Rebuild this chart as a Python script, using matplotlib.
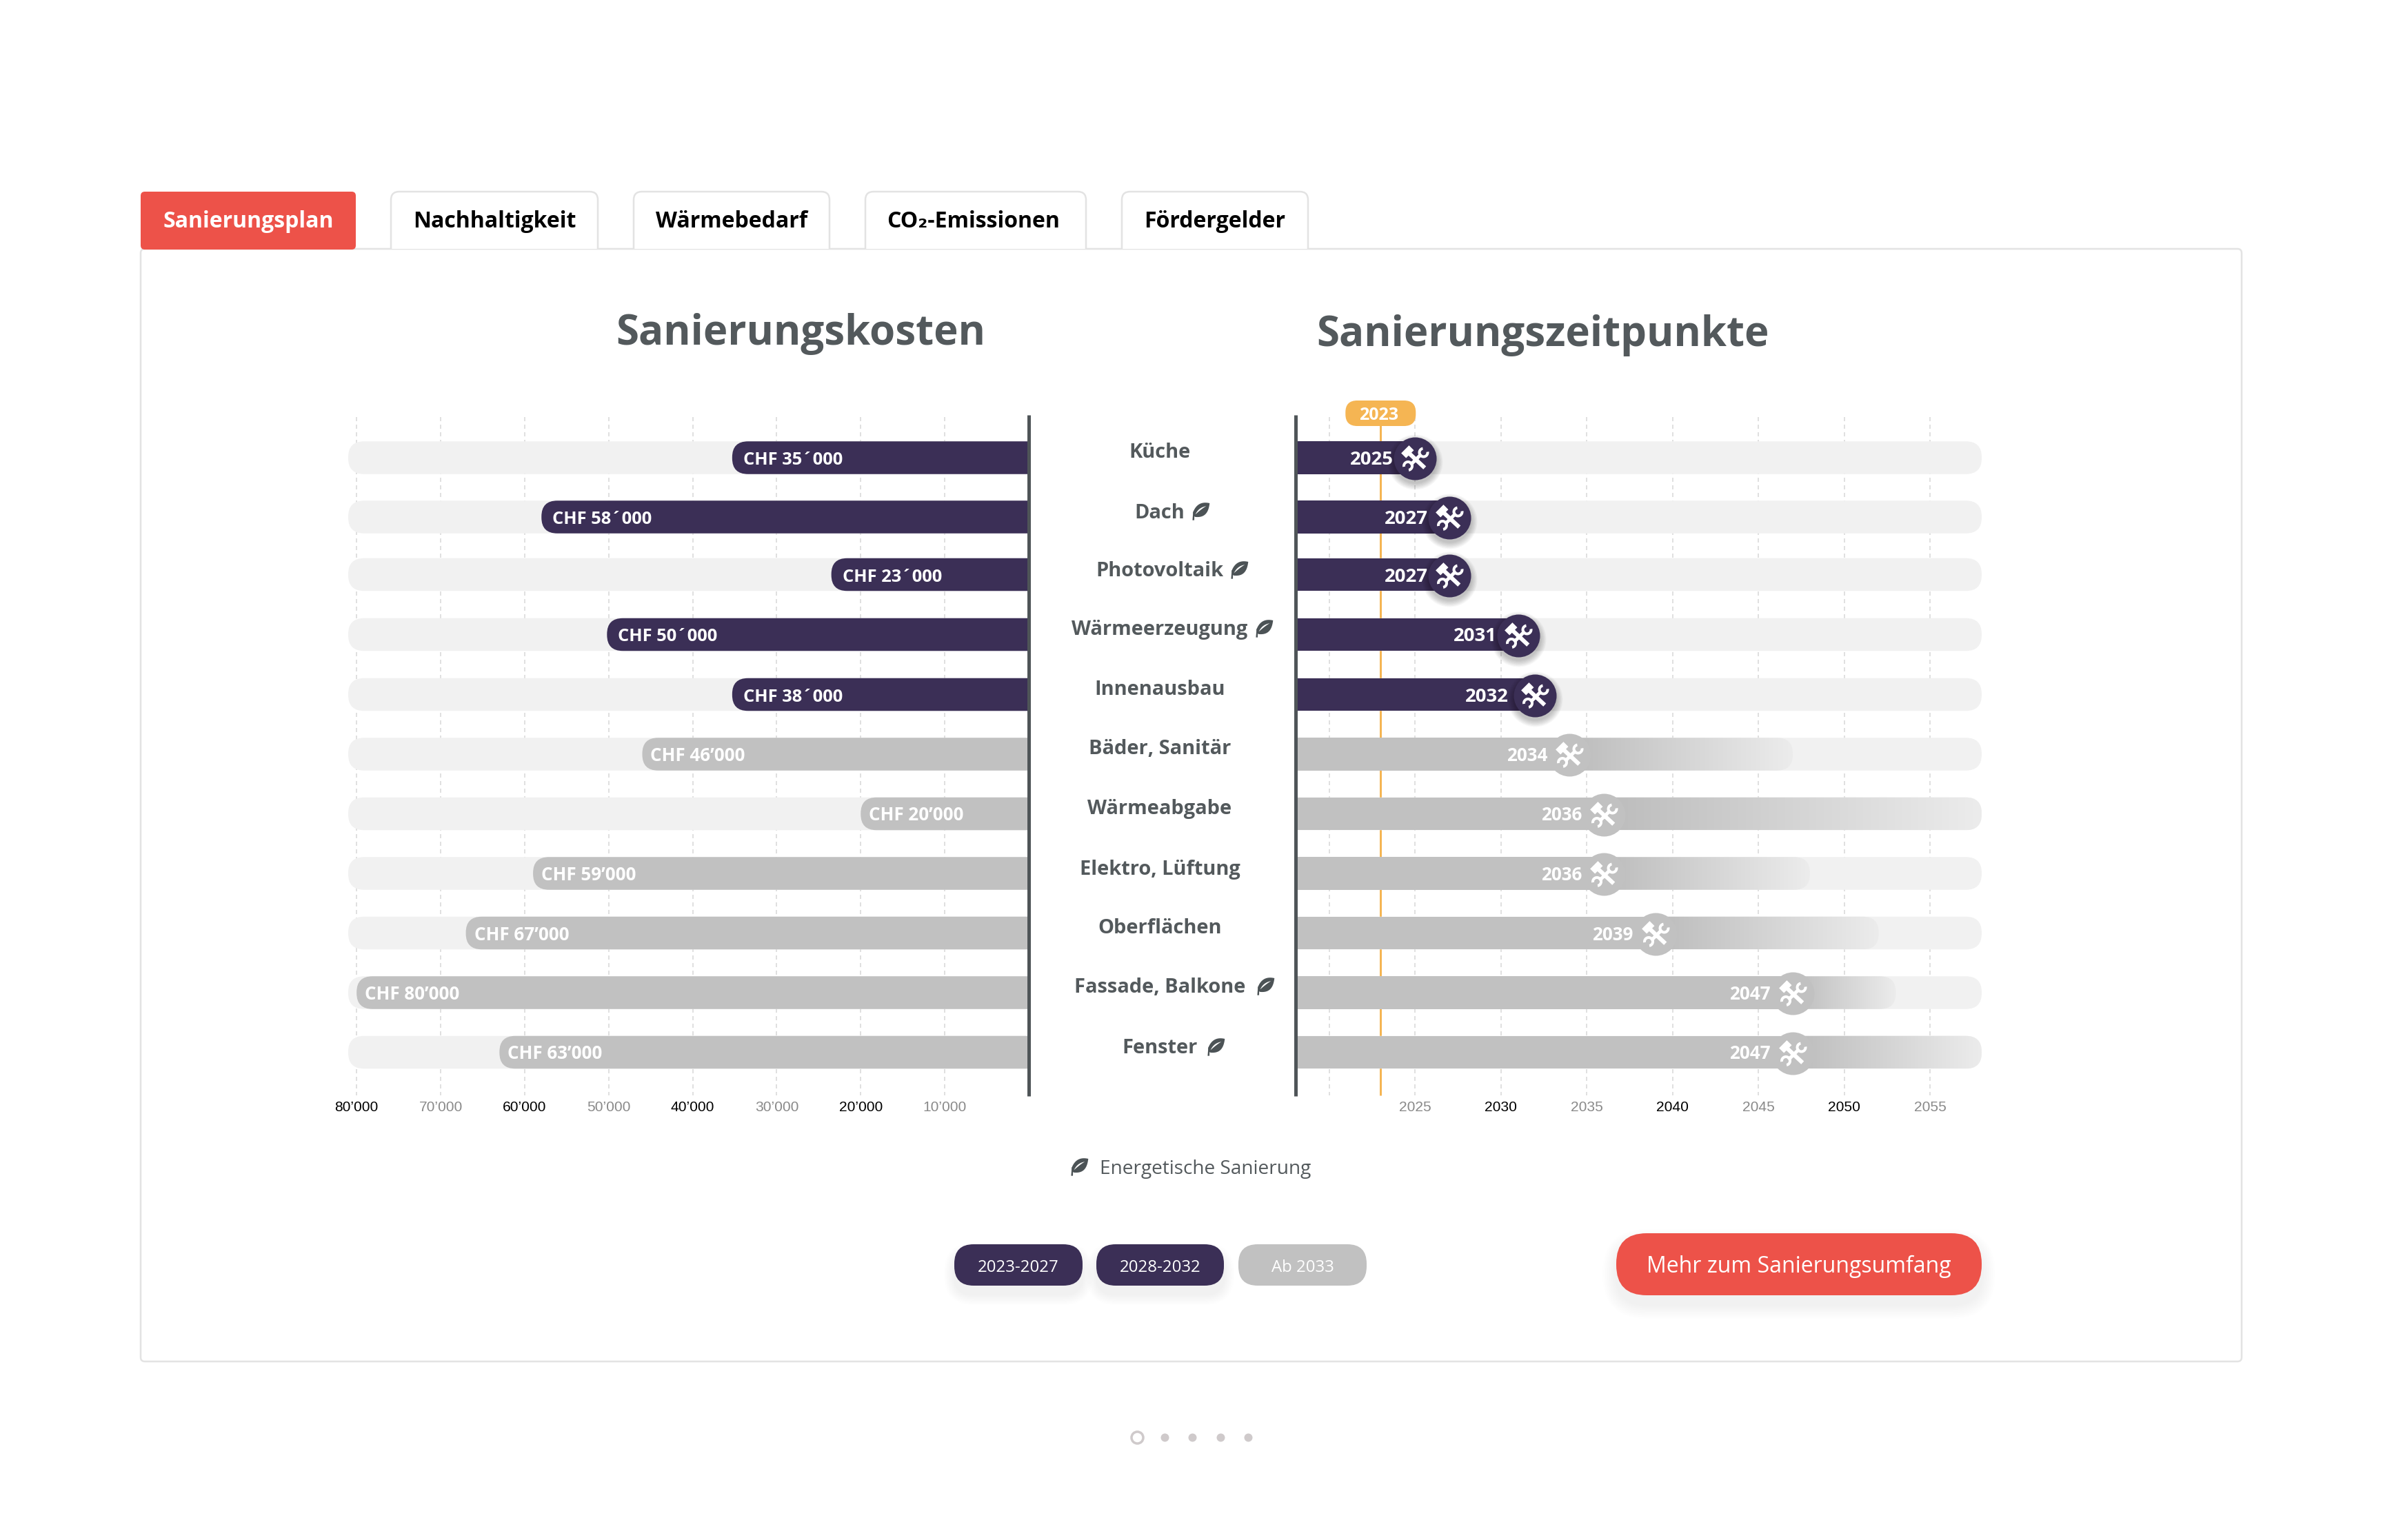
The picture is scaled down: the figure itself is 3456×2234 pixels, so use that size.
import numpy as np
import matplotlib
matplotlib.use("Agg")
import matplotlib.pyplot as plt
from matplotlib.patches import FancyBboxPatch, PathPatch
from matplotlib.path import Path
from matplotlib.markers import MarkerStyle

# ---------- data ----------
categories = ["Küche", "Dach", "Photovoltaik", "Wärmeerzeugung", "Innenausbau", "Bäder, Sanitär",
              "Wärmeabgabe", "Elektro, Lüftung", "Oberflächen", "Fassade, Balkone", "Fenster"]
energetic = [False, True, True, True, False, False, False, False, False, True, True]
costs = [35300, 58000, 23500, 50200, 35300, 46000, 20000, 59000, 67000, 80000, 63000]
cost_labels = ["CHF 35´000", "CHF 58´000", "CHF 23´000", "CHF 50´000", "CHF 38´000", "CHF 46’000",
               "CHF 20’000", "CHF 59’000", "CHF 67’000", "CHF 80’000", "CHF 63’000"]
years = [2025, 2027, 2027, 2031, 2032, 2034, 2036, 2036, 2039, 2047, 2047]
end_years = [None, None, None, None, None, 2047, 2058, 2048, 2052, 2053, 2058]
active_rows = [True, True, True, True, True, False, False, False, False, False, False]
cost_ticks = [80000, 70000, 60000, 50000, 40000, 30000, 20000, 10000]
cost_tick_labels = ["80’000", "70’000", "60’000", "50’000", "40’000", "30’000", "20’000", "10’000"]
year_grid = [2020, 2025, 2030, 2035, 2040, 2045, 2050, 2055]
year_ticks = [2025, 2030, 2035, 2040, 2045, 2050, 2055]
current_year = 2023
tabs = ["Sanierungsplan", "Nachhaltigkeit", "Wärmebedarf", "CO₂-Emissionen", "Fördergelder"]
period_labels = ["2023-2027", "2028-2032", "Ab 2033"]

# ---------- layout ----------
W, H = 3456, 2234
DPI = 200
PT = 72 / DPI
row_y = [664, 750, 833.5, 920.5, 1007.5, 1094, 1180.5, 1267, 1353.5, 1440, 1526.5]
label_y = [653, 741, 826, 911, 998, 1084, 1171, 1258, 1344, 1430, 1518]
year_gap = [31, 31, 31, 31, 39, 32, 32, 32, 32, 32, 32]
BAR_H = 47.5
R_PX = 23
YEAR0 = 2018.05
DARK, GREY, TRACK = "#3b2f56", "#c1c1c1", "#f1f1f1"
RED, ORANGE, TEXT, LINE, AXIS = "#ed5249", "#f5b553", "#53595c", "#e3e3e3", "#4f5558"
FONT = ["Open Sans", "DejaVu Sans"]
plt.rcParams["lines.scale_dashes"] = False
plt.rcParams["font.family"] = FONT


def fs(px):
    return px * PT


fig = plt.figure(figsize=(W / DPI, H / DPI), dpi=DPI, facecolor="white")
canvas = fig.add_axes([0, 0, 1, 1], zorder=0)
canvas.set_xlim(0, W)
canvas.set_ylim(H, 0)
canvas.axis("off")


def rrect(ax, x0, y0, x1, y1, r, **kw):
    p = FancyBboxPatch((x0, y0), x1 - x0, y1 - y0, boxstyle=f"round,pad=0,rounding_size={r}", **kw)
    ax.add_patch(p)
    return p


def soft_shadow(x0, y0, x1, y1, r, dy=10, spread=20, n=14, a=0.008):
    for i in range(n):
        g = spread * (1 - i / n)
        rrect(canvas, x0 - g, y0 + dy - g, x1 + g, y1 + dy + g, r + g,
              fc="black", ec="none", alpha=a, zorder=1.5)


# panel
rrect(canvas, 204, 361, 3251, 1975, 6, fc="white", ec=LINE, lw=2.5 * PT, zorder=1)


def tab_outline(x0, x1, y0=278, y1=361, r=12):
    verts = [(x0, y1), (x0, y0 + r), (x0, y0), (x0 + r, y0), (x1 - r, y0), (x1, y0), (x1, y0 + r), (x1, y1)]
    codes = [Path.MOVETO, Path.LINETO, Path.CURVE3, Path.CURVE3, Path.LINETO, Path.CURVE3, Path.CURVE3, Path.LINETO]
    return Path(verts, codes)


tab_x = [(204, 516), (567, 867), (919, 1203), (1255, 1575), (1627, 1897)]
for i, (lab, (x0, x1)) in enumerate(zip(tabs, tab_x)):
    if i == 0:
        rrect(canvas, x0, 278, x1, 362, 6, fc=RED, ec="none", zorder=2)
    else:
        canvas.add_patch(PathPatch(tab_outline(x0, x1), fc="white", ec=LINE, lw=2.5 * PT, zorder=1.2))
    canvas.text((x0 + x1) / 2 - (3 if i == 3 else 0), 330, lab, ha="center", va="baseline", fontsize=fs(32),
                fontweight="bold", color="white" if i == 0 else "black", zorder=3)

# titles
canvas.text(1161, 500, "Sanierungskosten", ha="center", va="baseline", fontsize=fs(60), fontweight="bold", color=TEXT)
canvas.text(2237, 502, "Sanierungszeitpunkte", ha="center", va="baseline", fontsize=fs(60), fontweight="bold", color=TEXT)


# data axes
def make_axes(x0, x1, xlim):
    ax = fig.add_axes([x0 / W, 1 - 1590 / H, (x1 - x0) / W, (1590 - 560) / H], zorder=2)
    ax.patch.set_alpha(0)
    ax.set_xlim(*xlim)
    ax.set_ylim(1590, 560)
    for s in ax.spines.values():
        s.set_visible(False)
    ax.set_yticks([])
    ax.tick_params(axis="x", length=0, pad=2.6)
    ax.autoscale(False)
    return ax


axL = make_axes(505, 1492, (81000, 0))
axR = make_axes(1879, 2874, (YEAR0, 2058))
UL = 81000 / (1492 - 505)   # value units per pixel
UR = (2058 - YEAR0) / (2874 - 1879)     # years per pixel


def pill_bar(ax, x0, x1, y, unit, color, z=2):
    r = R_PX * unit
    return rrect(ax, x0, y - BAR_H / 2, x1, y + BAR_H / 2, r, fc=color, ec="none",
                 mutation_aspect=1 / unit, zorder=z)


# grid
for ax, pos, y0 in ((axL, cost_ticks, 605), (axR, year_grid, 605)):
    ax.vlines(pos, y0, 1589, colors="#e0e0e0", lw=2 * PT, linestyles=[(0, (6 * PT, 5 * PT))], zorder=1)

# axis ticks
axL.set_xticks(cost_ticks, cost_tick_labels)
axR.set_xticks(year_ticks, [str(y) for y in year_ticks])
for ax in (axL, axR):
    for j, t in enumerate(ax.get_xticklabels()):
        t.set_fontfamily(["Liberation Sans"])
        t.set_fontsize(fs(21))
        first_dark = ax is axL
        dark = (j % 2 == 0) == first_dark
        t.set_color("black" if dark else "#8a8a8a")

# current-year marker
axR.vlines(current_year, 610, 1589, colors=ORANGE, lw=3 * PT, zorder=1.5)
rrect(axR, current_year - 51 * UR, 581, current_year + 51 * UR, 618, 17 * UR, fc=ORANGE, ec="none",
      mutation_aspect=1 / UR, zorder=3, clip_on=False)
axR.text(current_year - 3 * UR, 609, str(current_year), ha="center", va="baseline", color="white",
         fontsize=fs(25), fontweight="bold", zorder=4, clip_on=False)

# tracks
for y in row_y:
    pill_bar(axL, -30 * UL, 81000, y, UL, TRACK)
    pill_bar(axR, 2010, 2058, y, UR, TRACK)

# cost bars
for y, v, lab, act in zip(row_y, costs, cost_labels, active_rows):
    pill_bar(axL, -30 * UL, v, y, UL, DARK if act else GREY, z=3)
    axL.annotate(lab, (v, y + 10), xytext=((16 if act else 12) * PT, 0), textcoords="offset points",
                 ha="left", va="baseline", color="white", fontsize=fs(25.5 if act else 26), fontweight="bold", zorder=4)

# timeline bars and gradients
c0 = np.array(matplotlib.colors.to_rgb("#bcbcbc"))
c1 = np.array(matplotlib.colors.to_rgb("#ececec"))
ramp = (c0[None, :] + (c1 - c0)[None, :] * np.linspace(0, 1, 256)[:, None])[None, :, :]
for y, yr, end, act in zip(row_y, years, end_years, active_rows):
    axR.barh(y, yr - 2018, left=2018, height=BAR_H, color=DARK if act else GREY, zorder=3)
    if end is not None:
        clip = pill_bar(axR, yr - 2, end, y, UR, "none", z=2.1)
        im = axR.imshow(ramp, extent=(yr, end, y + BAR_H / 2, y - BAR_H / 2), aspect="auto", zorder=2.5,
                        interpolation="bilinear")
        im.set_clip_path(clip)
axR.set_xlim(YEAR0, 2058)
axR.set_ylim(1590, 560)


# hammer + wrench icon (pixel units around the marker centre, y up)
def ccw(p):
    p = np.asarray(p, float)
    area = 0.5 * np.sum(p[:, 0] * np.roll(p[:, 1], -1) - np.roll(p[:, 0], -1) * p[:, 1])
    return p if area > 0 else p[::-1]


def rot_rect(cx, cy, ln, wd, deg):
    a = np.radians(deg)
    u, v = np.array([np.cos(a), np.sin(a)]), np.array([-np.sin(a), np.cos(a)])
    c = np.array([cx, cy])
    return [c - u * ln / 2 - v * wd / 2, c + u * ln / 2 - v * wd / 2, c + u * ln / 2 + v * wd / 2, c - u * ln / 2 + v * wd / 2]


def c_ring(cx, cy, ro, ri, gap_deg, half=45):
    a = np.radians(np.linspace(gap_deg + half, gap_deg + 360 - half, 30))
    return np.r_[np.c_[cx + ro * np.cos(a), cy + ro * np.sin(a)],
                 np.c_[cx + ri * np.cos(a[::-1]), cy + ri * np.sin(a[::-1])]]


parts = [rot_rect(-11.2, 10.2, 16, 10, 45),
         rot_rect(2.4, -2.6, 31, 6, -43),
         c_ring(12, 9, 8, 4, 55),
         c_ring(-10.5, -10.5, 8, 4, 235),
         rot_rect(1, -1, 22, 5, 45)]
polys = [ccw(p) for p in parts]
icon_path = Path.make_compound_path(*[Path(np.r_[p, p[:1]], closed=True) for p in polys])
icon_rescale = np.max(np.abs(icon_path.vertices))
icon_s = (2 * icon_rescale * PT) ** 2

marker_s = (2 * 31 * PT) ** 2
for y, yr, act, gap in zip(row_y, years, active_rows, year_gap):
    if act:
        for g in np.linspace(9, 0, 8):
            axR.scatter([yr], [y + 6], s=(2 * (31 + g) * PT) ** 2, color="black", alpha=0.03, lw=0, zorder=3.5, clip_on=False)
    axR.scatter([yr], [y + 1], s=marker_s, color=DARK if act else GREY, lw=0, zorder=4, clip_on=False)
    axR.scatter([yr], [y + 1], s=icon_s, marker=MarkerStyle(icon_path), color="white", lw=0, zorder=5, clip_on=False)
    axR.annotate(str(yr), (yr, y + 10), xytext=(-gap * PT, 0), textcoords="offset points", ha="right", va="baseline",
                 color="white", fontsize=fs(27.5 if act else 26), fontweight="bold", zorder=5)

# axis lines
axL.vlines(0, 602, 1590, colors=AXIS, lw=5 * PT, zorder=6, clip_on=False)
axR.vlines(YEAR0, 602, 1590, colors=AXIS, lw=5 * PT, zorder=6, clip_on=False)


# leaf glyph
def bez(p0, p1, p2, p3, n=24):
    t = np.linspace(0, 1, n)[:, None]
    p0, p1, p2, p3 = map(np.array, (p0, p1, p2, p3))
    return (1 - t) ** 3 * p0 + 3 * (1 - t) ** 2 * t * p1 + 3 * (1 - t) * t ** 2 * p2 + t ** 3 * p3


LEAF_BODY = np.r_[bez((11.7, -10.5), (3, -12.5), (-6, -11), (-11, 1.5)),
                  bez((-11, 1.5), (-11.5, 5), (-10, 8), (-8, 8.5)),
                  bez((-8, 8.5), (3, 9.5), (10, 5), (11.7, -10.5))]
LEAF_VEIN = np.r_[bez((7, -6.5), (-1, -5), (-5, -1), (-8, 5)),
                  bez((-8, 5), (-4, 1.5), (1, -3), (7, -6.5))]
LEAF_STEM = np.array([(-11, 1), (-9.3, 3), (-9.5, 13), (-12, 13)])


def leaf(cx, cy, k=1.05):
    for pts, col in ((LEAF_BODY, "#4c5356"), (LEAF_VEIN, "white"), (LEAF_STEM, "#4c5356")):
        canvas.add_patch(plt.Polygon(np.c_[cx + k * pts[:, 0], cy + k * pts[:, 1]], closed=True, fc=col, ec="none", zorder=3))


leaf_x = {1: 1742, 2: 1798, 3: 1834, 9: 1836, 10: 1764}
for i, (cat, ly) in enumerate(zip(categories, label_y)):
    canvas.text(1682, ly + 10.5, cat, ha="center", va="baseline", fontsize=fs(29), fontweight="bold", color=TEXT)
    if energetic[i]:
        leaf(leaf_x[i], ly)

# legend
leaf(1566, 1692)
canvas.text(1595, 1703, "Energetische Sanierung", ha="left", va="baseline", fontsize=fs(28), color=TEXT)

# period pills
pill_x = [(1384, 1570), (1590, 1775), (1796, 1982)]
for lab, (x0, x1), col in zip(period_labels, pill_x, [DARK, DARK, GREY]):
    if col == DARK:
        soft_shadow(x0, 1805, x1, 1865, 28, dy=13, spread=15, a=0.005)
    rrect(canvas, x0, 1805, x1, 1865, 28, fc=col, ec="none", zorder=2)
    canvas.text((x0 + x1) / 2, 1845, lab, ha="center", va="baseline", fontsize=fs(24), color="white", zorder=3)

# button
soft_shadow(2344, 1789, 2874, 1879, 44, dy=14, spread=20, a=0.004)
rrect(canvas, 2344, 1789, 2874, 1879, 44, fc=RED, ec="none", zorder=2)
canvas.text(2609, 1846, "Mehr zum Sanierungsumfang", ha="center", va="baseline", fontsize=fs(32), color="white", zorder=3)

# pager
canvas.scatter([1649], [2085], s=(2 * 8.5 * PT) ** 2, fc="white", ec="#cfcacb", lw=3.5 * PT, zorder=3)
canvas.scatter([1689, 1729, 1770, 1810], [2085] * 4, s=(2 * 6 * PT) ** 2, color="#cfcacb", lw=0, zorder=3)
canvas.set_xlim(0, W)
canvas.set_ylim(H, 0)

fig.savefig("out.png", dpi=DPI, facecolor="white")
